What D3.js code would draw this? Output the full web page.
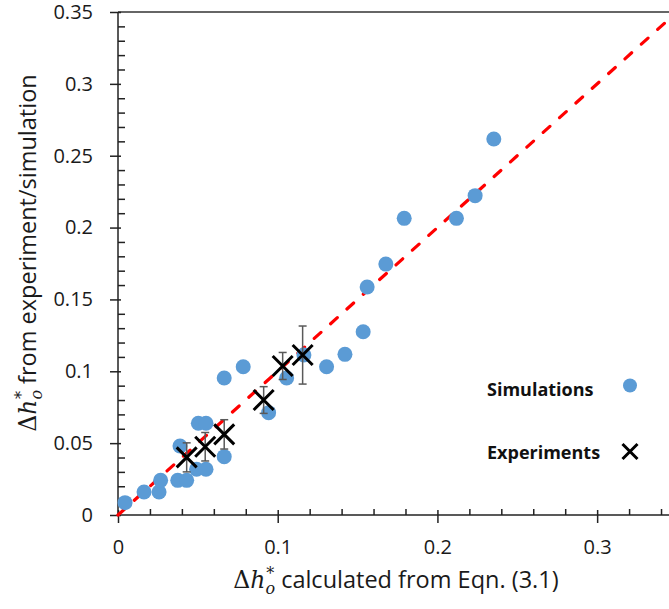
<!DOCTYPE html>
<html>
<head>
<meta charset="utf-8">
<script src="https://cdn.jsdelivr.net/npm/d3@7"></script>
<style>
  body { margin: 0; background: #fff; }
  svg { display: block; font-family: "Open Sans", sans-serif; }
</style>
</head>
<body>
<svg id="chart" width="669" height="609"></svg>
<script>
// simulations: calculated vs measured
const simX = [0.0044, 0.0163, 0.0257, 0.0267, 0.0374, 0.0430, 0.0388, 0.0492, 0.0551, 0.0503, 0.0551, 0.0665, 0.0665,
  0.0784, 0.0943, 0.1056, 0.1164, 0.1306, 0.1421, 0.1535, 0.1560, 0.1677, 0.1792, 0.2119, 0.2236, 0.2353];
const simY = [0.0086, 0.0160, 0.0160, 0.0241, 0.0241, 0.0241, 0.0480, 0.0318, 0.0318, 0.0638, 0.0638, 0.0406, 0.0953,
  0.1032, 0.0712, 0.0953, 0.1113, 0.1032, 0.1118, 0.1275, 0.1586, 0.1746, 0.2064, 0.2064, 0.2222, 0.2616];

// experiments with error bars
const expX = [0.0430, 0.0546, 0.0665, 0.0912, 0.1031, 0.1156];
const expY = [0.0401, 0.0475, 0.0561, 0.0800, 0.1037, 0.1113];
const expErr = [0.0101, 0.0099, 0.0102, 0.0093, 0.0094, 0.0202];

const xMajor = [0, 0.1, 0.2, 0.3];
const xMajorLabels = ["0", "0.1", "0.2", "0.3"];
const yMajor = [0, 0.05, 0.1, 0.15, 0.2, 0.25, 0.3, 0.35];
const yMajorLabels = ["0", "0.05", "0.1", "0.15", "0.2", "0.25", "0.3", "0.35"];
const legendLabels = ["Simulations", "Experiments"];

const svg = d3.select("#chart");
const margin = {top: 12, left: 118},
    bottom = 515;

const x = d3.scaleLinear().domain([0, 0.35]).range([margin.left, 677]);
const y = d3.scaleLinear().domain([0, 0.35]).range([bottom, margin.top]);

const xMinor = d3.range(0, 0.3401, 0.02).filter(v => !xMajor.some(m => Math.abs(m - v) < 1e-9));
const yMinor = d3.range(0, 0.3401, 0.01).filter(v => !yMajor.some(m => Math.abs(m - v) < 1e-9));

// top frame line
svg.append("line")
    .attr("x1", x(0)).attr("x2", 669)
    .attr("y1", y(0.35)).attr("y2", y(0.35))
    .attr("stroke", "#333").attr("stroke-width", 1.5);

// y axis
const gy = svg.append("g").attr("transform", "translate(" + x(0) + ",0)");
gy.append("g")
    .call(d3.axisLeft(y).tickValues(yMinor).tickSize(-7).tickFormat(""))
    .call(g => g.select(".domain").remove())
    .selectAll("line").attr("stroke", "#222").attr("stroke-width", 1.5);
gy.append("g")
    .call(d3.axisLeft(y).tickValues(yMajor).tickSize(8).tickFormat((d, i) => yMajorLabels[i]))
    .call(g => g.select(".domain").attr("stroke", "#222").attr("stroke-width", 1.5).attr("d", "M0," + y(0) + "V" + y(0.35)))
    .call(g => g.selectAll(".tick line").attr("x1", 3).attr("stroke", "#222").attr("stroke-width", 1.5))
    .call(g => g.selectAll(".tick text").attr("x", -25).attr("font-size", 20)
        .attr("font-family", "Open Sans, sans-serif").attr("fill", "#1a1a1a"));

// x axis
const gx = svg.append("g").attr("transform", "translate(0," + bottom + ")");
gx.append("g")
    .call(d3.axisBottom(x).tickValues(xMinor).tickSize(-6).tickFormat(""))
    .call(g => g.select(".domain").remove())
    .selectAll("line").attr("stroke", "#222").attr("stroke-width", 1.5);
gx.append("g")
    .call(d3.axisBottom(x).tickValues(xMajor).tickSize(8).tickFormat((d, i) => xMajorLabels[i]))
    .call(g => g.select(".domain").attr("stroke", "#222").attr("stroke-width", 1.5).attr("d", "M" + x(0) + ",0H669"))
    .call(g => g.selectAll(".tick line").attr("y1", -5).attr("stroke", "#222").attr("stroke-width", 1.5))
    .call(g => g.selectAll(".tick text").attr("y", 25).attr("font-size", 20)
        .attr("font-family", "Open Sans, sans-serif").attr("fill", "#1a1a1a"));

// y = x reference line
svg.append("line")
    .attr("x1", x(0)).attr("y1", y(0))
    .attr("x2", x(0.35)).attr("y2", y(0.35))
    .attr("stroke", "#ff0000").attr("stroke-width", 3.2)
    .attr("stroke-dasharray", "9,13").attr("stroke-linecap", "round");

// simulation points
svg.append("g").selectAll("circle")
    .data(simX.map((d, i) => [d, simY[i]]))
    .join("circle")
    .attr("cx", d => x(d[0]))
    .attr("cy", d => y(d[1]))
    .attr("r", 7.5)
    .attr("fill", "#5b9bd5");

// experiments: error bars then crosses
const exp = expX.map((d, i) => ({x: d, y: expY[i], e: expErr[i]}));
const ge = svg.append("g").attr("stroke", "#595959").attr("stroke-width", 1.5);
ge.selectAll(".bar").data(exp).join("line")
    .attr("class", "bar")
    .attr("x1", d => x(d.x)).attr("x2", d => x(d.x))
    .attr("y1", d => y(d.y - d.e)).attr("y2", d => y(d.y + d.e));
ge.selectAll(".capTop").data(exp).join("line")
    .attr("class", "capTop")
    .attr("x1", d => x(d.x) - 4).attr("x2", d => x(d.x) + 4)
    .attr("y1", d => y(d.y + d.e)).attr("y2", d => y(d.y + d.e));
ge.selectAll(".capBot").data(exp).join("line")
    .attr("class", "capBot")
    .attr("x1", d => x(d.x) - 4).attr("x2", d => x(d.x) + 4)
    .attr("y1", d => y(d.y - d.e)).attr("y2", d => y(d.y - d.e));

function cross(g, cx, cy, s) {
  g.append("path")
    .attr("d", "M" + (cx - s) + "," + (cy - s) + "L" + (cx + s) + "," + (cy + s) +
               "M" + (cx - s) + "," + (cy + s) + "L" + (cx + s) + "," + (cy - s))
    .attr("stroke", "#000").attr("stroke-width", 3).attr("fill", "none");
}
const gc = svg.append("g");
exp.forEach(d => cross(gc, x(d.x), y(d.y), 10));

// legend
const leg = svg.append("g").attr("font-weight", "bold").attr("font-size", 18).attr("fill", "#111");
leg.append("text").attr("x", 487).attr("y", 396).text(legendLabels[0]);
leg.append("circle").attr("cx", 630).attr("cy", 385.5).attr("r", 7).attr("fill", "#5b9bd5");
leg.append("text").attr("x", 487).attr("y", 459).text(legendLabels[1]);
cross(leg, 630, 451.5, 7.5);

// axis titles with Δh_o^* symbol
function mathTitle(t, rest) {
  t.append("tspan").attr("font-family", "DejaVu Serif, serif").text("Δ");
  t.append("tspan").attr("font-family", "DejaVu Serif, serif").attr("font-style", "italic").text("h");
  t.append("tspan").attr("font-family", "DejaVu Serif, serif").attr("font-style", "italic")
    .attr("font-size", 16).attr("dy", 6).text("o");
  t.append("tspan").attr("font-family", "DejaVu Serif, serif")
    .attr("font-size", 16).attr("dx", -9).attr("dy", -15).text("*");
  t.append("tspan").attr("dx", 7).attr("dy", 9).text(rest);
}

const xt = svg.append("text")
    .attr("x", 396).attr("y", 588)
    .attr("text-anchor", "middle").attr("font-size", 23.5).attr("fill", "#1a1a1a");
mathTitle(xt, "calculated from Eqn. (3.1)");

const yt = svg.append("text")
    .attr("transform", "translate(36,253) rotate(-90)")
    .attr("text-anchor", "middle").attr("font-size", 23.5).attr("fill", "#1a1a1a");
mathTitle(yt, "from experiment/simulation");
</script>
</body>
</html>
